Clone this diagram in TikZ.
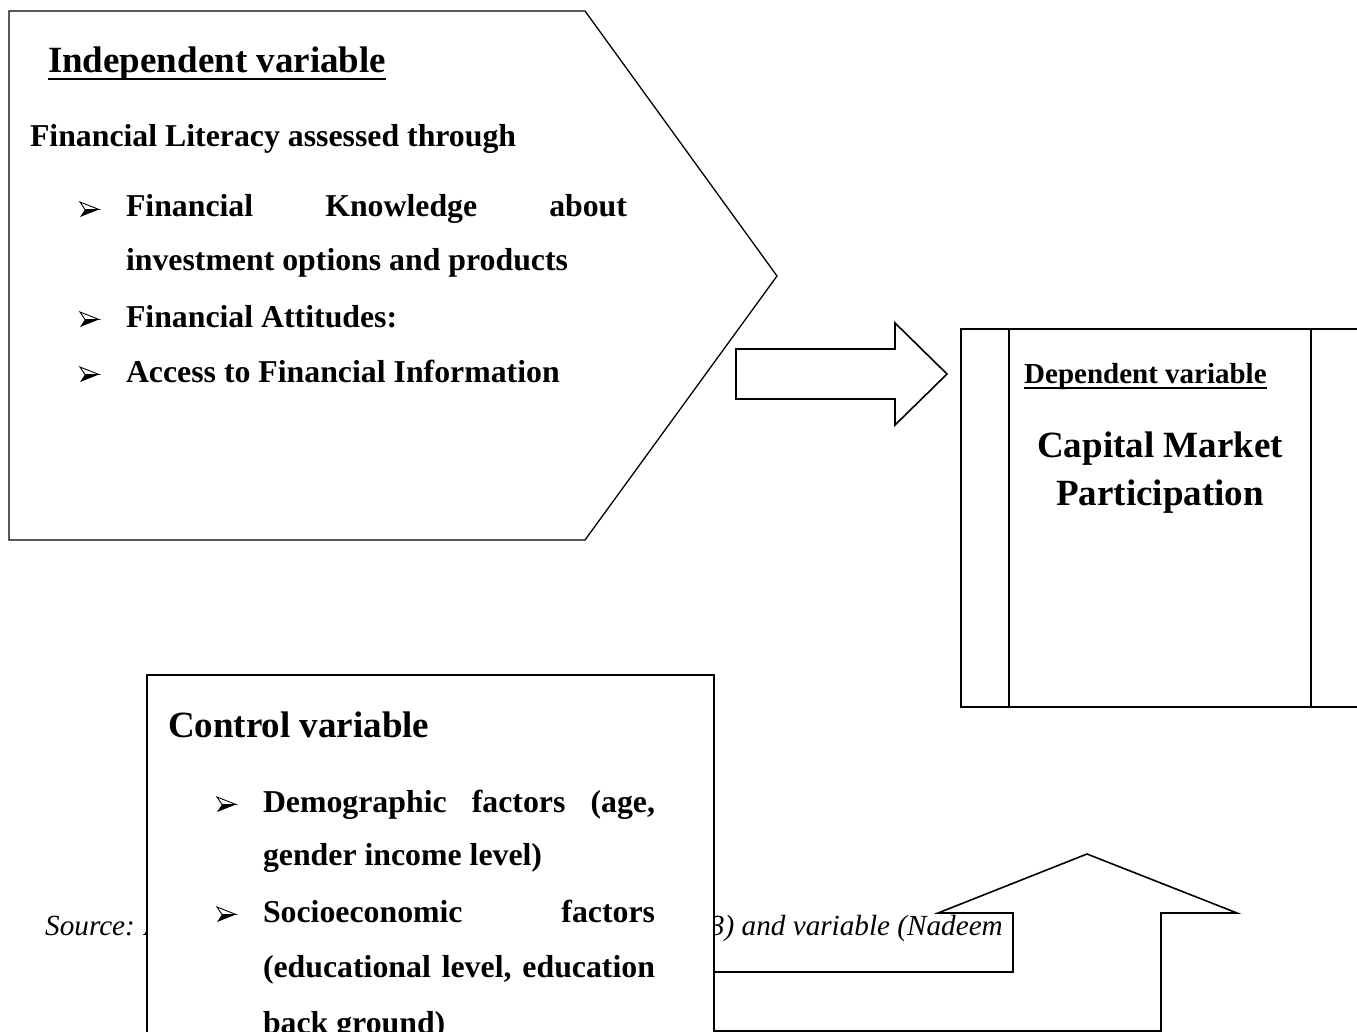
\documentclass[tikz,border=0pt]{standalone}
\usepackage{fontspec}
\setmainfont{Liberation Serif}
\newcommand\bodyfnt{\fontsize{31.8}{38}\selectfont\bfseries}
\newcommand\titlefnt{\fontsize{37}{44}\selectfont\bfseries}
\newcommand\depfnt{\fontsize{29}{35}\selectfont\bfseries}
\newcommand\srcfnt{\fontsize{29.2}{35}\selectfont\itshape}
\tikzset{
  shapeline/.style={draw=black,line width=1.6pt,fill=white,line join=miter},
  txt/.style={inner sep=0pt,outer sep=0pt,anchor=base west,font=\bodyfnt},
  ttl/.style={inner sep=0pt,outer sep=0pt,anchor=base west,font=\titlefnt},
  uline/.style={line width=2.6pt},
  bulletpic/.pic={
    \draw[line width=0.9pt,line join=miter,fill=white] (0,-15) -- (19,-7.5) -- (5,-7.5) -- cycle;
    \fill[line join=miter] (0,0) -- (19,-7.5) -- (5,-7.5) -- cycle;
  }
}
\begin{document}
\begin{tikzpicture}[x=1pt,y=-1pt]
\useasboundingbox (0,0) rectangle (1357,1032);
\clip (0,0) rectangle (1357,1032);

% independent variable pentagon
\draw[shapeline,line width=1.3pt] (9,11) -- (585,11) -- (777,276) -- (585,540) -- (9,540) -- cycle;
\node[ttl] (indeptitle) at (48,73) {Independent variable};
\draw[uline] ([yshift=-6pt]indeptitle.base west) -- ([yshift=-6pt]indeptitle.base east);
\node[txt] (fl) at (30,147) {Financial Literacy assessed through};
\pic at (80,217) {bulletpic};
\node[txt] (k1) at (126,217) {\makebox[501pt][l]{Financial\hfill Knowledge\hfill about}};
\node[txt] (k2) at (126,271) {investment options and products};
\pic at (80,327) {bulletpic};
\node[txt] (att) at (126,327) {Financial Attitudes:};
\pic at (80,382) {bulletpic};
\node[txt] (acc) at (126,382) {Access to Financial Information};

% right block arrow
\draw[shapeline] (736,349) -- (895,349) -- (895,323) -- (947,374) -- (895,425) -- (895,399) -- (736,399) -- cycle;

% dependent variable box
\draw[shapeline] (961,329) rectangle (1380,707);
\draw[line width=1.6pt] (1009,329) -- (1009,707);
\draw[line width=1.6pt] (1311,329) -- (1311,707);
\node[inner sep=0pt,anchor=base west,font=\depfnt] (deptitle) at (1024,383) {Dependent variable};
\draw[line width=2pt] ([yshift=-5pt]deptitle.base west) -- ([yshift=-5pt]deptitle.base east);
\node[inner sep=0pt,anchor=base,font=\titlefnt] (cap1) at (1160,457) {Capital Market};
\node[inner sep=0pt,anchor=base,font=\titlefnt] (cap2) at (1160,505) {Participation};

% bent up arrow
\draw[shapeline] (700,1031) -- (1161,1031) -- (1161,913) -- (1237,913) -- (1087,854) -- (938,913) -- (1013,913) -- (1013,972) -- (700,972) -- cycle;

% source text
\node[inner sep=0pt,anchor=base west,font=\srcfnt] (src1) at (45,935) {Source: Author};
\node[inner sep=0pt,anchor=base east,font=\srcfnt] (src2) at (1003,935) {2023) and variable (Nadeem};

% control variable box
\draw[shapeline] (147,675) rectangle (714,1100);
\node[ttl] (ctitle) at (168,737) {Control variable};
\pic at (217,812) {bulletpic};
\node[txt] (d1) at (263,812) {\makebox[392pt][l]{Demographic\hfill factors\hfill (age,}};
\node[txt] (d2) at (263,865) {gender income level)};
\pic at (217,922) {bulletpic};
\node[txt] (s1) at (263,922) {\makebox[392pt][l]{Socioeconomic\hfill factors}};
\node[txt] (s2) at (263,977) {\makebox[392pt][l]{(educational\hfill level,\hfill education}};
\node[txt] (s3) at (263,1033) {back ground)};
\end{tikzpicture}
\end{document}
